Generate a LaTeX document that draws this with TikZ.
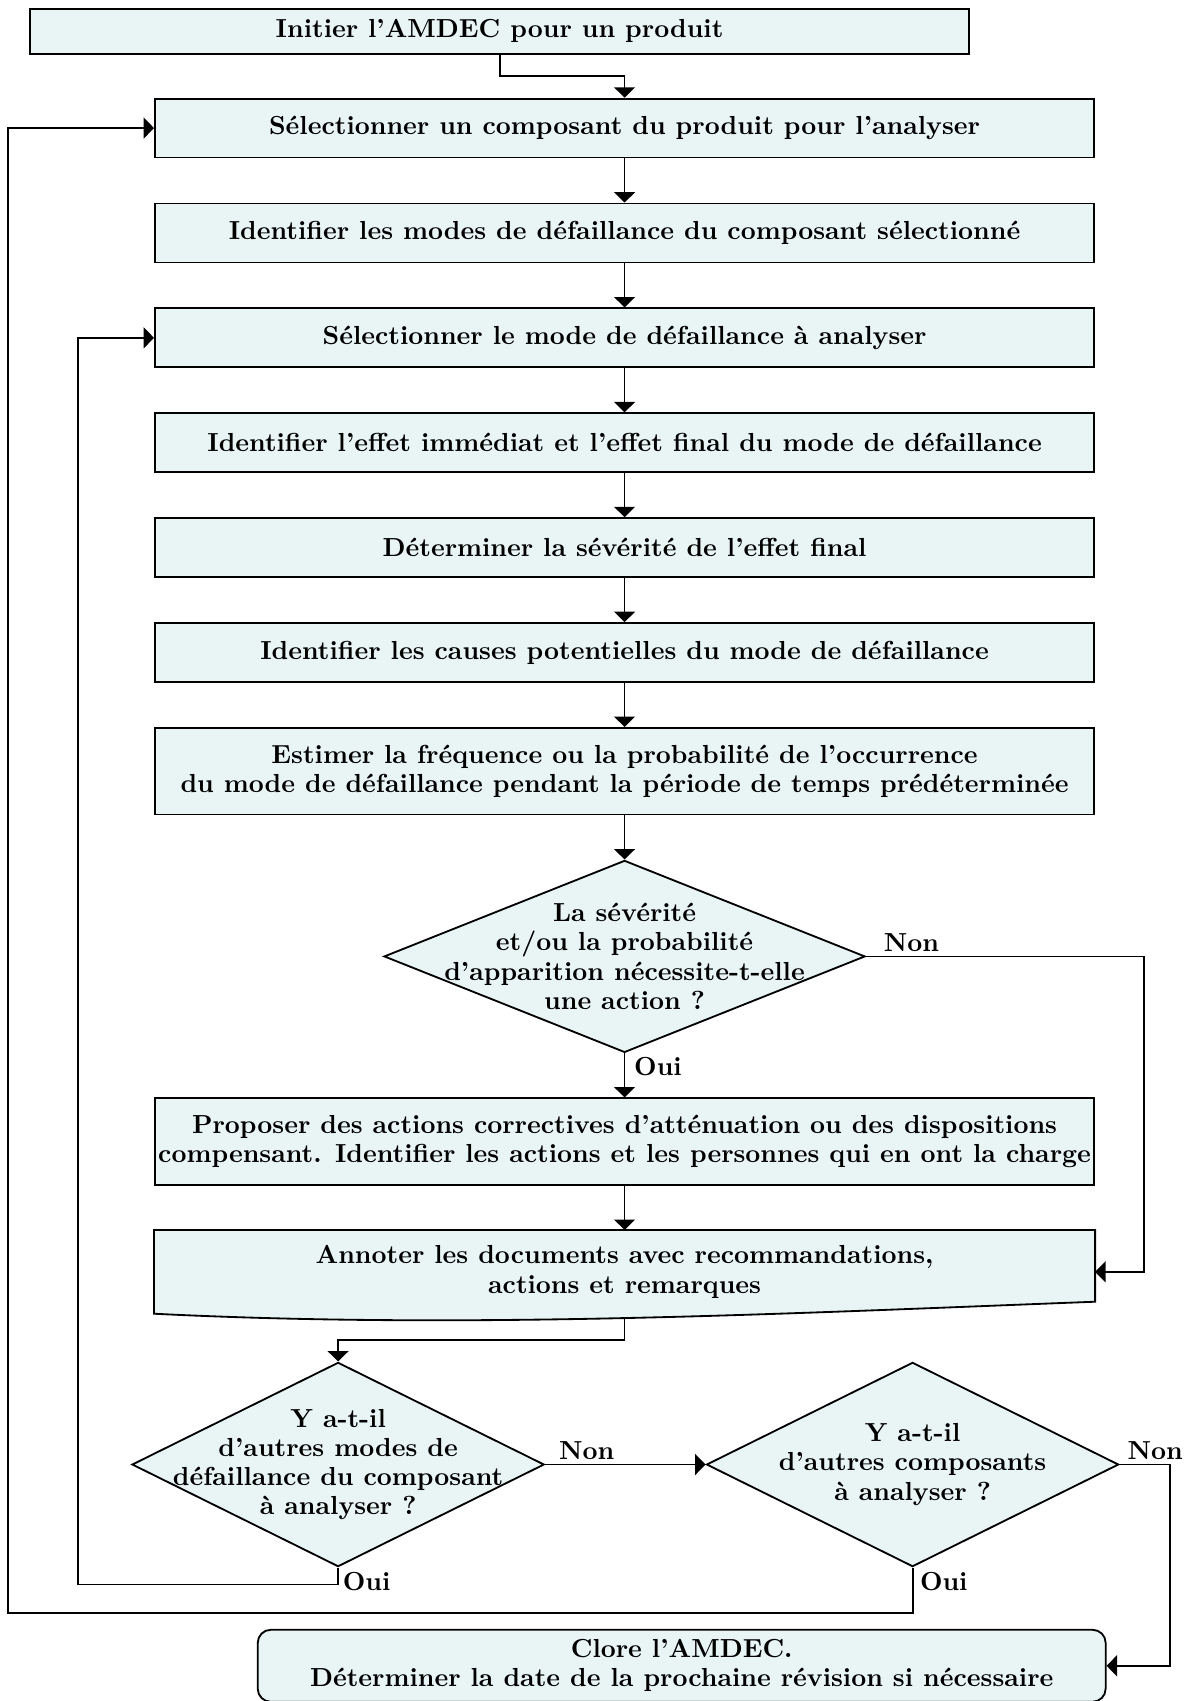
\documentclass[tikz,border=0pt]{standalone}
\usepackage{tikz}
\usetikzlibrary{arrows.meta,positioning,calc,shapes.geometric,backgrounds}
\definecolor{boxfill}{RGB}{233,245,245}

\begin{document}
\begin{tikzpicture}[
  box/.style={draw, fill=boxfill, line width=0.7pt, minimum width=360pt, minimum height=22.6pt, inner sep=1pt, align=center, font=\fontsize{10}{11.2}\selectfont\bfseries},
  tallbox/.style={box, minimum height=33.2pt},
  decision/.style={draw, fill=boxfill, line width=0.7pt, diamond, inner sep=0pt},
  dtext/.style={align=center, font=\fontsize{10}{11.2}\selectfont\bfseries, inner sep=0pt},
  lbl/.style={font=\bfseries, inner sep=1.5pt},
  arr/.style={-{Triangle[length=4pt,width=8pt]}, line width=0.7pt},
  node distance=16.9pt,
]
  \useasboundingbox (-239.4pt,49.1pt) rectangle (218.7pt,-602.9pt);

  \node[box] (pickpart) {Sélectionner un composant du produit pour l'analyser};
  \node[box, minimum height=17.2pt, above=16.5pt of pickpart, xshift=-47.9pt] (start) {Initier l'AMDEC pour un produit};
  \node[box, below=of pickpart] (findmodes) {Identifier les modes de défaillance du composant sélectionné};
  \node[box, below=of findmodes] (pickmode) {Sélectionner le mode de défaillance à analyser};
  \node[box, below=of pickmode] (effects) {Identifier l'effet immédiat et l'effet final du mode de défaillance};
  \node[box, below=of effects] (severity) {Déterminer la sévérité de l'effet final};
  \node[box, below=of severity] (causes) {Identifier les causes potentielles du mode de défaillance};
  \node[tallbox, below=of causes] (estimate) {Estimer la fréquence ou la probabilité de l'occurrence\\du mode de défaillance pendant la période de temps prédéterminée};
  \node[decision, minimum width=184.4pt, minimum height=73.6pt, below=of estimate,
    label={[dtext]center:La sévérité\\et/ou la probabilité\\d'apparition nécessite-t-elle\\une action ?}] (needact) {};
  \node[tallbox, below=of needact] (propose) {Proposer des actions correctives d'atténuation ou des dispositions\\compensant. Identifier les actions et les personnes qui en ont la charge};
  \node[box, draw=none, fill=none, minimum height=31.4pt, below=of propose] (annot) {Annoter les documents avec recommandations,\\actions et remarques};
  \node[decision, minimum width=158pt, minimum height=78.3pt, below=18.3pt of annot, xshift=-109.8pt,
    label={[dtext]center:Y a-t-il\\d'autres modes de\\défaillance du composant\\à analyser ?}] (moremodes) {};
  \node[decision, minimum width=158pt, minimum height=78.3pt, right=61.5pt of moremodes,
    label={[dtext]center:Y a-t-il\\d'autres composants\\à analyser ?}] (moreparts) {};
  \node[box, rounded corners=5pt, minimum width=325pt, minimum height=27.6pt, below=23.5pt of moreparts, xshift=-88.5pt] (close) {Clore l'AMDEC.\\Déterminer la date de la prochaine révision si nécessaire};

  % document shape under the annotation text
  \begin{scope}[on background layer]
    \filldraw[fill=boxfill, line width=0.7pt] (annot.north west) -- (annot.north east) -- ([yshift=4.6pt]annot.south east)
      .. controls ([xshift=240pt]annot.south west) and ([xshift=120pt,yshift=-6pt]annot.south west) .. (annot.south west) -- cycle;
  \end{scope}
  \coordinate (annotout) at ([yshift=-1.7pt]annot.south);

  \draw[arr] (start.south) |- ($(start.south)!0.5!(pickpart.north)$) -| (pickpart.north);
  \draw[arr] (pickpart) -- (findmodes);
  \draw[arr] (findmodes) -- (pickmode);
  \draw[arr] (pickmode) -- (effects);
  \draw[arr] (effects) -- (severity);
  \draw[arr] (severity) -- (causes);
  \draw[arr] (causes) -- (estimate);
  \draw[arr] (estimate) -- (needact);
  \draw[arr] (needact) -- (propose);
  \draw[arr] (propose) -- (annot);
  \draw[arr] (annotout) |- ($(annotout)!0.5!(moremodes.north)$) -| (moremodes.north);

  % decisions
  \draw[arr] (needact.east) node[lbl, anchor=south west, xshift=5pt] (non1) {Non} -- ++(106.6pt,0) |- (annot.east);
  \node[lbl, anchor=north west, xshift=2pt] (oui1) at (needact.south) {Oui};
  \draw[arr] (moremodes.east) node[lbl, anchor=south west, xshift=3.5pt] (non2) {Non} -- (moreparts.west);
  \draw[arr] (moremodes.south) node[lbl, anchor=north west] (oui2) {Oui} -- ++(0,-6.5pt) -| ([xshift=-29.1pt]pickmode.west) -- (pickmode.west);
  \draw[arr] (moreparts.east) node[lbl, anchor=south west, xshift=1.2pt] (non3) {Non} -- ++(19.2pt,0) |- (close.east);
  \draw[arr] (moreparts.south) node[lbl, anchor=north west, xshift=1pt] (oui3) {Oui} -- ++(0,-17.5pt) -| ([xshift=-56pt]pickpart.west) -- (pickpart.west);
\end{tikzpicture}
\end{document}
